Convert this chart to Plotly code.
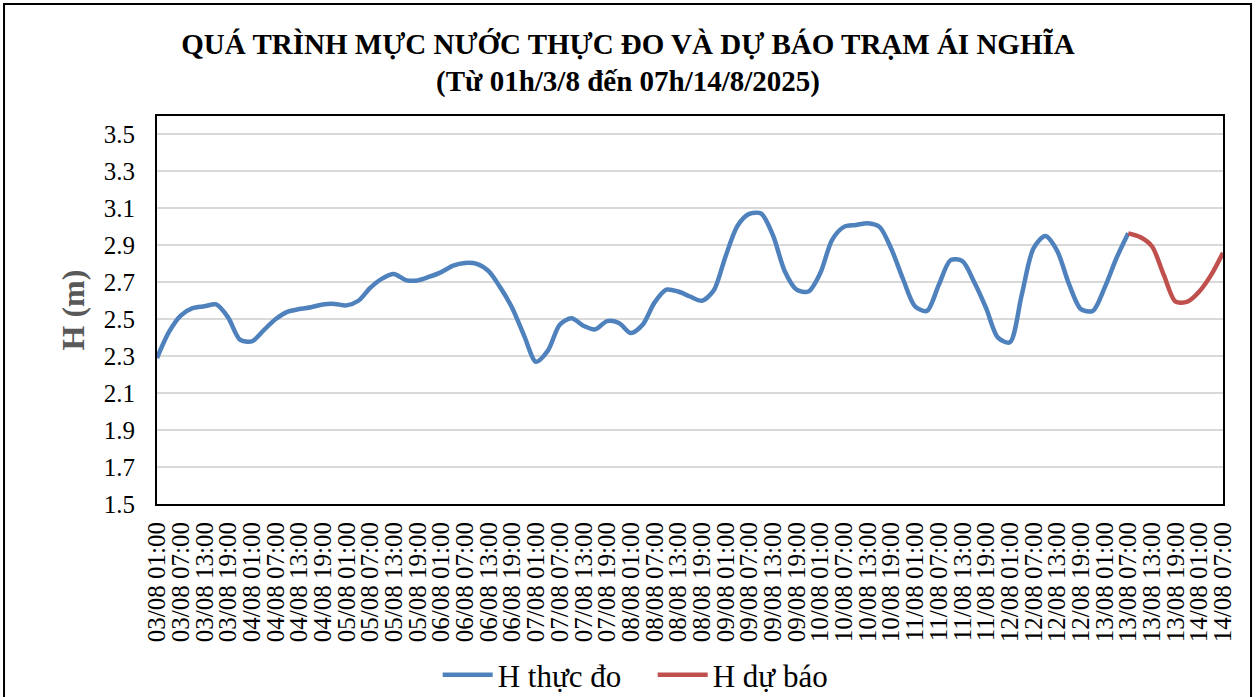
import plotly.graph_objects as go

# ---- data (hour offset from 03/08 01:00) ----
obs_hours = list(range(0, 247, 3))
obs_values = [
    2.29, 2.43, 2.52, 2.56, 2.57, 2.58, 2.51, 2.39, 2.38, 2.44,
    2.50, 2.54, 2.555, 2.565, 2.58, 2.583, 2.575, 2.60, 2.67, 2.72,
    2.745, 2.712, 2.71, 2.73, 2.755, 2.79, 2.805, 2.80, 2.76, 2.67,
    2.56, 2.41, 2.27, 2.33, 2.47, 2.505, 2.465, 2.445, 2.49, 2.48,
    2.425, 2.47, 2.59, 2.66, 2.65, 2.623, 2.60, 2.655, 2.84, 3.005,
    3.07, 3.072, 2.955, 2.76, 2.66, 2.65, 2.75, 2.93, 3.00, 3.01,
    3.02, 3.00, 2.88, 2.715, 2.57, 2.545, 2.685, 2.82, 2.815, 2.70,
    2.56, 2.40, 2.375, 2.63, 2.884, 2.95, 2.87, 2.69, 2.555, 2.545,
    2.67, 2.83, 2.965,
]
fc_hours = list(range(246, 271, 3))
fc_values = [2.965, 2.945, 2.895, 2.74, 2.595, 2.595, 2.65, 2.74, 2.86]

days = ["03/08", "04/08", "05/08", "06/08", "07/08", "08/08", "09/08",
        "10/08", "11/08", "12/08", "13/08", "14/08"]
times = ["01:00", "07:00", "13:00", "19:00"]
tick_labels = [f"{d} {t}" for d in days for t in times][:46]
tick_positions = list(range(0, 271, 6))

y_ticks = [1.5, 1.7, 1.9, 2.1, 2.3, 2.5, 2.7, 2.9, 3.1, 3.3, 3.5]

FONT = "Liberation Serif"

fig = go.Figure()
fig.add_trace(go.Scatter(
    x=obs_hours, y=obs_values, name="H thực đo", mode="lines",
    line=dict(color="#4F81BD", width=4.5, shape="spline", smoothing=0.8),
))
fig.add_trace(go.Scatter(
    x=fc_hours, y=fc_values, name="H dự báo", mode="lines",
    line=dict(color="#C0504D", width=4.5, shape="spline", smoothing=0.8),
))

fig.update_layout(
    width=1256, height=697,
    margin=dict(l=157, r=33, t=116, b=193, autoexpand=False),
    paper_bgcolor="white", plot_bgcolor="white",
    font=dict(family=FONT, color="black"),
    title=dict(
        text="<b>QUÁ TRÌNH MỰC NƯỚC THỰC ĐO VÀ DỰ BÁO TRẠM ÁI NGHĨA<br>(Từ 01h/3/8 đến 07h/14/8/2025)</b>",
        x=0.5, xref="container", xanchor="center",
        y=0.923, yref="container", yanchor="middle",
        font=dict(family=FONT, size=29, color="black"),
    ),
    showlegend=True,
    legend=dict(
        orientation="h", x=0.465, xanchor="center", y=-0.4407, yanchor="middle",
        font=dict(family=FONT, size=31, color="black"),
        itemwidth=50, tracegroupgap=0,
        entrywidth=150, entrywidthmode="pixels",
    ),
    shapes=[dict(
        type="rect", xref="paper", yref="paper",
        x0=-0.1435, x1=1.0263, y0=-0.53, y1=1.2887,
        line=dict(color="black", width=2), fillcolor="rgba(0,0,0,0)",
        layer="below",
    )],
)

fig.update_xaxes(
    range=[0, 270], automargin=False,
    tickmode="array", tickvals=tick_positions, ticktext=tick_labels,
    tickangle=-90, tickfont=dict(family=FONT, size=25, color="black"),
    showgrid=False, zeroline=False,
    showline=True, linecolor="black", linewidth=2, mirror=True,
    ticks="", ticklabelstandoff=6,
)
fig.update_yaxes(
    range=[1.5, 3.6], automargin=False,
    tickmode="array", tickvals=y_ticks, ticktext=[f"{v:.1f}" for v in y_ticks],
    tickfont=dict(family=FONT, size=25, color="black"),
    showgrid=True, gridcolor="#D9D9D9", gridwidth=1.5,
    zeroline=False,
    showline=True, linecolor="black", linewidth=2, mirror=True,
    ticks="", ticklabelstandoff=15,
    title=dict(text="<b>H (m)</b>", font=dict(family=FONT, size=32, color="#595959"), standoff=10),
)

fig.write_html("out.html", config={"displayModeBar": False},
               post_script="document.body.style.margin='0';")
